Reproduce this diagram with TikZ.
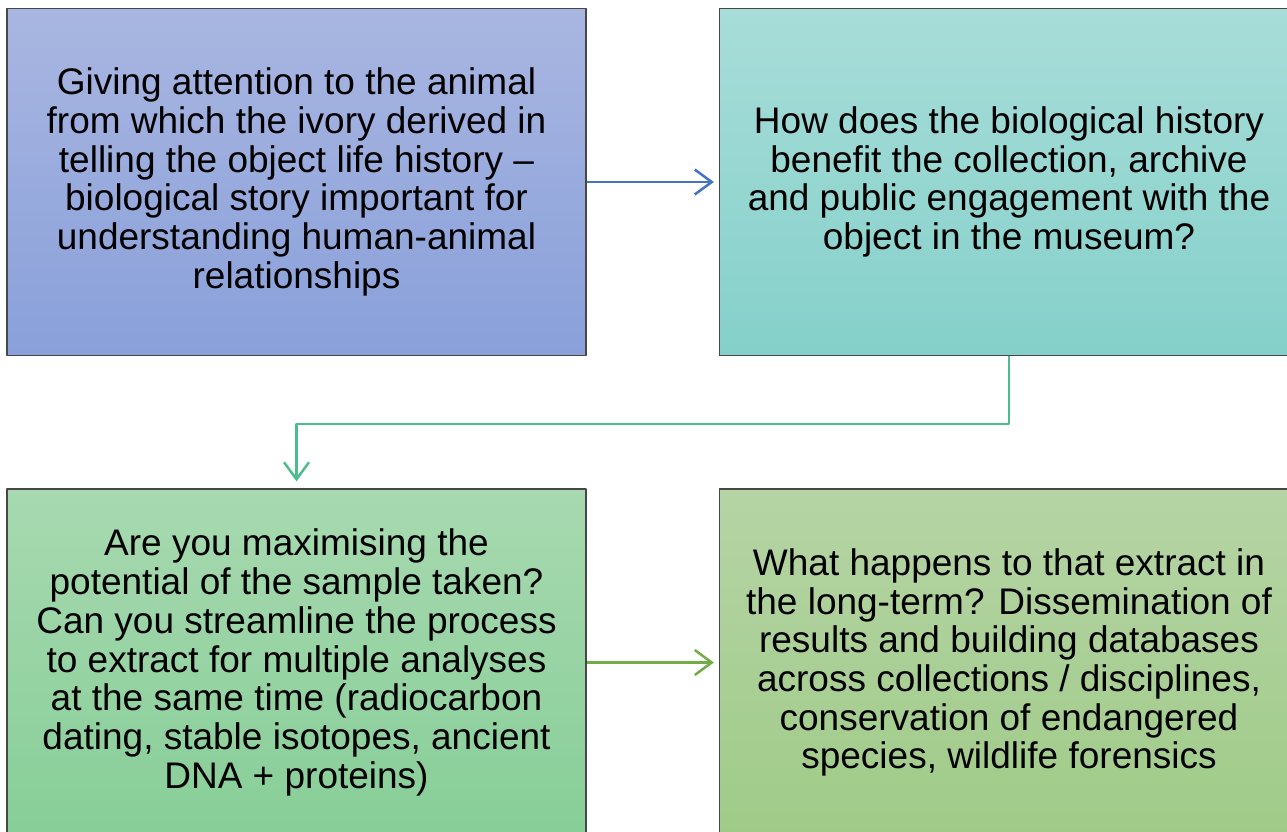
\documentclass[tikz,border=0pt]{standalone}
\usepackage{fontspec}
\setmainfont{Liberation Sans}
\usetikzlibrary{arrows.meta}
\definecolor{xanhduong}{RGB}{68,114,196}
\definecolor{xanhla}{RGB}{112,173,71}
\definecolor{xanhngoc}{RGB}{75,190,140}
\begin{document}
\begin{tikzpicture}[x=1pt,y=-1pt,line join=round,
	hop/.style={draw=black!72,line width=1.3pt,minimum width=579pt,minimum height=347pt,inner sep=0pt,align=center,font=\fontsize{37}{38.7}\selectfont},
	noi/.style={line width=2.5pt,-{Straight Barb[length=17pt,width=25pt,line width=2.5pt]}}]
	\useasboundingbox (0,0) rectangle (1287,831);
	%Các ô
	\node[hop,top color={rgb,255:red,169;green,182;blue,225},bottom color={rgb,255:red,137;green,160;blue,218}] (A) at (296.5,182) {Giving attention to the animal\\from which the ivory derived in\\telling the object life history –\\biological story important for\\understanding human-animal\\relationships};
	\node[hop,top color={rgb,255:red,168;green,221;blue,217},bottom color={rgb,255:red,133;green,208;blue,202}] (B) at (1009,182) {How does the biological history\\benefit the collection, archive\\and public engagement with the\\object in the museum?};
	\node[hop,top color={rgb,255:red,168;green,217;blue,176},bottom color={rgb,255:red,135;green,206;blue,152}] (C) at (296.5,662.5) {Are you maximising the\\potential of the sample taken?\\Can you streamline the process\\to extract for multiple analyses\\at the same time (radiocarbon\\dating, stable isotopes, ancient\\DNA + proteins)};
	\node[hop,top color={rgb,255:red,182;green,212;blue,165},bottom color={rgb,255:red,159;green,203;blue,136}] (D) at (1009,662.5) {What happens to that extract in\\the long-term? Dissemination of\\results and building databases\\across collections / disciplines,\\conservation of endangered\\species, wildlife forensics};
	%Mũi tên
	\draw[noi,xanhduong,shorten >=5pt] (A.east) -- (B.west);
	\draw[noi,xanhngoc,shorten >=7pt] (B.south) -- ++(0,68) -| (C.north);
	\draw[noi,xanhla,shorten >=5pt] (C.east) -- (D.west);
\end{tikzpicture}
\end{document}
